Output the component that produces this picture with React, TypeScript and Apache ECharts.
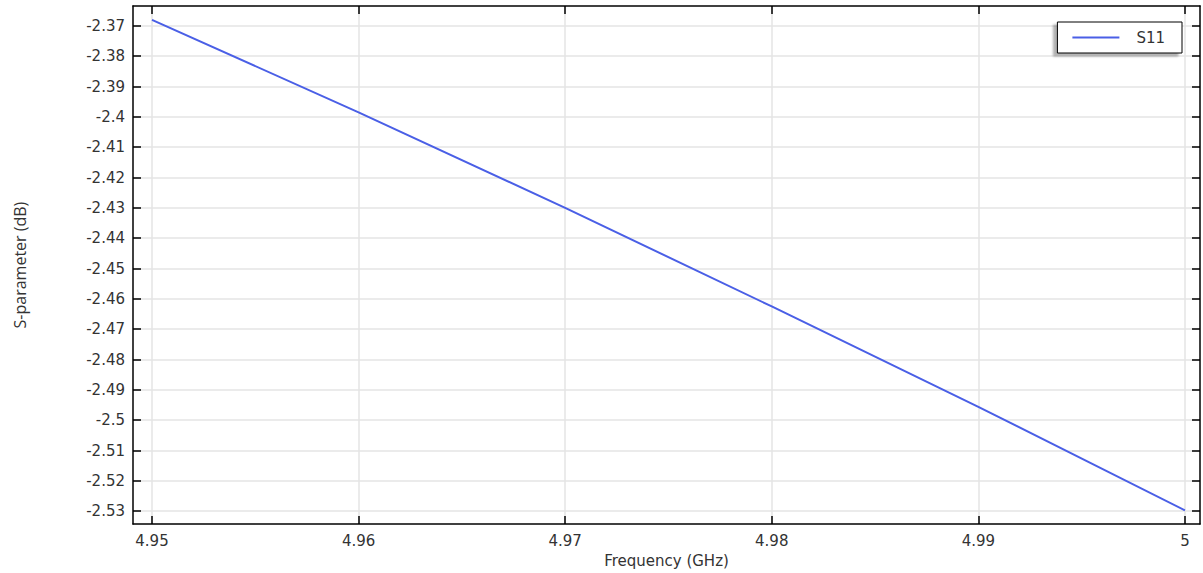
import React, { useEffect, useRef } from 'react';
import * as echarts from 'echarts';

const freq = [4.95, 4.96, 4.97, 4.98, 4.99, 5.0];
const s11 = [-2.368, -2.3985, -2.43, -2.4625, -2.4956, -2.5297];
const xTicks = [4.95, 4.96, 4.97, 4.98, 4.99, 5];
const yTicks = [-2.37, -2.38, -2.39, -2.4, -2.41, -2.42, -2.43, -2.44, -2.45, -2.46, -2.47, -2.48, -2.49, -2.5, -2.51, -2.52, -2.53];

const X_MIN = 4.94908;
const X_MAX = 5.00073;
const Y_MIN = -2.53426;
const Y_MAX = -2.36344;

const fmt = (v: number) => String(+Number(v).toFixed(2));

export default function App() {
  const ref = useRef<HTMLDivElement>(null);
  useEffect(() => {
    if (!ref.current) return;
    const chart = echarts.init(ref.current, undefined, { renderer: 'svg' });
    const labelStyle = { color: '#333', fontSize: 15, fontFamily: 'DejaVu Sans' };
    const gridLine = { show: true, lineStyle: { color: '#e4e4e4', width: 1.5 } };
    const frame = { show: true, onZero: false, lineStyle: { color: '#000', width: 1.5 } };
    const tick = (vals: number[]) => ({ show: true, inside: true, length: 8, customValues: vals, lineStyle: { color: '#000', width: 1.5 } });
    chart.setOption({
      animation: false,
      backgroundColor: '#fff',
      grid: { left: 133, right: 3, top: 6, bottom: 46, containLabel: false },
      legend: {
        data: [{ name: 'S11', icon: 'rect' }],
        right: 21,
        top: 22,
        padding: [8, 17, 8, 15],
        itemWidth: 47,
        itemHeight: 2,
        itemGap: 10,
        backgroundColor: '#fff',
        borderColor: '#000',
        borderWidth: 1,
        borderRadius: 0,
        shadowColor: 'rgba(0,0,0,0.3)',
        shadowBlur: 2,
        shadowOffsetX: -4,
        shadowOffsetY: 3,
        textStyle: { color: '#333', fontSize: 15, fontFamily: 'DejaVu Sans', padding: [0, 0, 0, 12] },
      },
      xAxis: [
        {
          type: 'value',
          min: X_MIN,
          max: X_MAX,
          position: 'bottom',
          name: 'Frequency (GHz)',
          nameLocation: 'middle',
          nameGap: 26,
          nameTextStyle: { color: '#333', fontSize: 15, fontFamily: 'DejaVu Sans' },
          axisLine: frame,
          axisTick: tick(xTicks),
          axisLabel: { ...labelStyle, customValues: xTicks, margin: 9, formatter: fmt },
          splitLine: gridLine,
        },
        {
          type: 'value',
          min: X_MIN,
          max: X_MAX,
          position: 'top',
          axisLine: frame,
          axisTick: tick(xTicks),
          axisLabel: { show: false, customValues: xTicks },
          splitLine: { show: false },
        },
      ],
      yAxis: [
        {
          type: 'value',
          min: Y_MIN,
          max: Y_MAX,
          position: 'left',
          name: 'S-parameter (dB)',
          nameLocation: 'middle',
          nameGap: 105,
          nameTextStyle: { color: '#333', fontSize: 16, fontFamily: 'Open Sans' },
          axisLine: frame,
          axisTick: tick(yTicks),
          axisLabel: { ...labelStyle, customValues: yTicks, margin: 8, formatter: fmt },
          splitLine: gridLine,
        },
        {
          type: 'value',
          min: Y_MIN,
          max: Y_MAX,
          position: 'right',
          axisLine: frame,
          axisTick: tick(yTicks),
          axisLabel: { show: false, customValues: yTicks },
          splitLine: { show: false },
        },
      ],
      series: [
        {
          name: 'S11',
          type: 'line',
          xAxisIndex: 0,
          yAxisIndex: 0,
          symbol: 'none',
          smooth: false,
          lineStyle: { color: '#4a5fe6', width: 2 },
          itemStyle: { color: '#4a5fe6' },
          data: freq.map((f, i) => [f, s11[i]]),
        },
      ],
    });
    return () => chart.dispose();
  }, []);
  return (
    <div
      ref={ref}
      style={{ position: 'fixed', left: 0, top: 0, width: 1203, height: 573, background: '#fff' }}
    />
  );
}
